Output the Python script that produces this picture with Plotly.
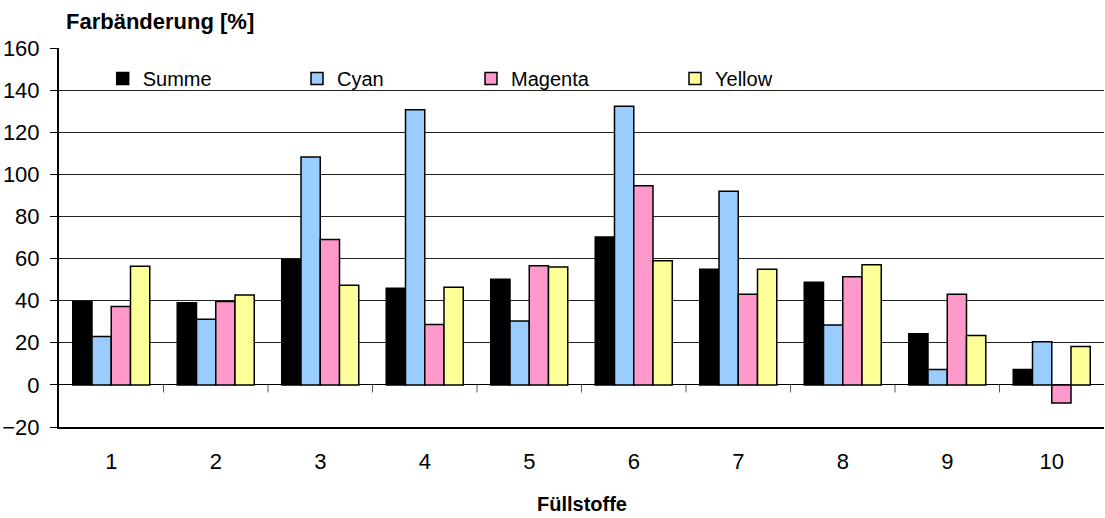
import plotly.graph_objects as go

categories = ["1", "2", "3", "4", "5", "6", "7", "8", "9", "10"]
summe = [39.6, 39.0, 59.5, 45.9, 50.2, 70.2, 54.9, 48.7, 24.3, 7.3]
cyan = [23.0, 31.2, 108.2, 130.7, 30.4, 132.3, 92.0, 28.5, 7.3, 20.5]
magenta = [37.2, 39.6, 69.1, 28.7, 56.6, 94.6, 43.0, 51.3, 43.0, -8.6]
yellow = [56.3, 42.7, 47.3, 46.4, 56.0, 58.9, 54.9, 57.1, 23.5, 18.2]

series_names = ["Summe", "Cyan", "Magenta", "Yellow"]
series_values = [summe, cyan, magenta, yellow]
series_colors = ["#000000", "#99CCFF", "#FF99CC", "#FFFF99"]

y_title = "Farbänderung [%]"
x_title = "Füllstoffe"

FONT = "Liberation Sans, Arial, sans-serif"

W, H = 1105, 518
PL, PR, PT, PB = 59, 1104, 47.5, 427.5  # plot area in pixels
L, T, R, B = PL, PT, W - PR, H - PB
pw = PR - PL
ph = PB - PT

legend_text_px = [142.7, 337, 511, 715]
legend_center_y = 78

fig = go.Figure()
legend_ids = ["legend", "legend2", "legend3", "legend4"]
for name, vals, col, lid in zip(series_names, series_values, series_colors, legend_ids):
    fig.add_trace(go.Bar(
        x=categories, y=vals, name=name,
        marker=dict(color=col, line=dict(color="#000000", width=1.5)),
        legend=lid,
    ))

legends = {}
for lid, tx in zip(legend_ids, legend_text_px):
    legends[lid] = dict(
        x=(tx - 40 - PL) / pw, xanchor="left", xref="paper",
        y=(PB - legend_center_y) / ph, yanchor="middle", yref="paper",
        orientation="h", bgcolor="rgba(0,0,0,0)", borderwidth=0,
        font=dict(family=FONT, size=20, color="#000000"),
        itemwidth=30,
    )

shapes = [dict(
    type="rect", layer="between", xref="paper", yref="y",
    x0=0, x1=(824 - PL) / pw, y0=136, y1=151,
    fillcolor="#FFFFFF", line=dict(width=0),
)]
for i in range(len(categories) - 1):
    shapes.append(dict(
        type="line", xref="x", yref="y", layer="above",
        x0=i + 0.5, x1=i + 0.5, y0=0, y1=-3.6,
        line=dict(color="#555555", width=1),
    ))

fig.update_layout(
    width=W, height=H,
    margin=dict(l=L, r=R, t=T, b=B, autoexpand=False),
    paper_bgcolor="#FFFFFF", plot_bgcolor="#FFFFFF",
    barmode="group", bargap=0.263, bargroupgap=0,
    font=dict(family=FONT, size=20, color="#000000"),
    xaxis=dict(
        type="category", showgrid=False, showline=True, linecolor="#000000", linewidth=2,
        ticks="", ticklabelstandoff=14,
        tickfont=dict(family=FONT, size=22, color="#000000"),
        range=[-0.5, len(categories) - 0.5],
    ),
    yaxis=dict(
        range=[-20, 160], dtick=20, tick0=0,
        showgrid=True, gridcolor="#222222", gridwidth=1,
        zeroline=True, zerolinecolor="#000000", zerolinewidth=1,
        showline=True, linecolor="#000000", linewidth=2,
        ticks="outside", ticklen=7, tickcolor="#000000", tickwidth=1,
        ticklabelstandoff=6,
        tickfont=dict(family=FONT, size=22, color="#000000"),
    ),
    shapes=shapes,
    annotations=[
        dict(
            text=y_title, xref="paper", yref="paper",
            x=(64 - PL) / pw, y=(PB - 21) / ph,
            xanchor="left", yanchor="middle", showarrow=False,
            font=dict(family=FONT, size=22, color="#000000", weight="bold"),
        ),
        dict(
            text=x_title, xref="paper", yref="paper", x=0.5, y=-(505 - PB) / ph,
            xanchor="center", yanchor="middle", showarrow=False,
            font=dict(family=FONT, size=20, color="#000000", weight="bold"),
        ),
    ],
    showlegend=True,
    **legends,
)

fig.write_html(
    "out.html",
    config={"displayModeBar": False},
    post_script="document.body.style.margin='0';document.body.style.overflow='hidden';",
)
